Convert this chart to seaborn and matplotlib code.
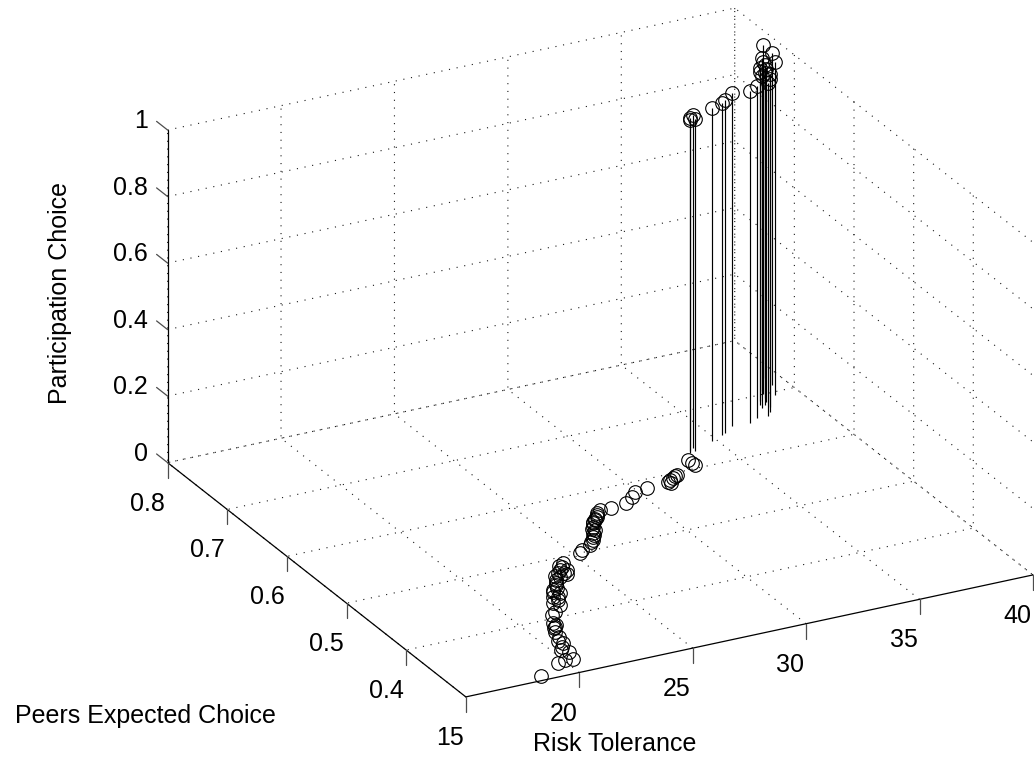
import numpy as np
import matplotlib
matplotlib.use("Agg")
import matplotlib.pyplot as plt
import seaborn as sns

# ---------------- data ----------------
# first 72 observations: participation 0 (on the floor), last 24: participation 1
risk_tolerance = [
    18.53, 19.70, 20.07, 20.36, 20.37, 20.54, 20.55, 20.75, 20.96, 21.05,
    21.28, 21.30, 21.60, 21.84, 22.17, 22.30, 22.47, 22.57, 22.74, 22.85,
    23.03, 23.28, 23.40, 23.55, 23.83, 23.86, 24.06, 24.10, 24.27, 25.30,
    25.50, 26.00, 26.29, 26.45, 26.63, 26.80, 26.90, 27.05, 27.27, 27.44,
    27.65, 27.89, 28.32, 29.06, 29.57, 29.89, 30.48, 31.44, 31.63, 31.82,
    32.09, 33.13, 33.14, 33.15,
    22.40, 22.95, 23.15, 23.65, 24.00, 22.65, 23.95, 26.15, 26.55, 26.75,
    27.10, 27.55, 27.30, 20.85, 21.15, 20.65, 31.55, 31.95,
    33.51, 33.77, 33.83, 34.80, 35.41, 35.60, 36.15, 36.90, 37.37, 37.84,
    37.98, 38.10, 38.22, 38.22, 38.40, 38.52, 38.60, 38.73, 39.00, 39.34,
    39.34, 38.30, 38.05, 33.60,
]
peers_expected = [
    0.308, 0.324, 0.326, 0.325, 0.344, 0.349, 0.338, 0.355, 0.377, 0.383,
    0.392, 0.388, 0.406, 0.410, 0.426, 0.420, 0.429, 0.434, 0.448, 0.440,
    0.455, 0.463, 0.470, 0.467, 0.472, 0.479, 0.483, 0.476, 0.489, 0.500,
    0.504, 0.510, 0.517, 0.522, 0.529, 0.533, 0.539, 0.545, 0.550, 0.554,
    0.561, 0.565, 0.564, 0.567, 0.575, 0.582, 0.585, 0.587, 0.590, 0.592,
    0.596, 0.617, 0.610, 0.606,
    0.436, 0.450, 0.458, 0.474, 0.486, 0.444, 0.470, 0.514, 0.525, 0.536,
    0.547, 0.557, 0.552, 0.366, 0.385, 0.360, 0.585, 0.594,
    0.628, 0.629, 0.635, 0.640, 0.646, 0.649, 0.658, 0.656, 0.662, 0.662,
    0.677, 0.668, 0.681, 0.690, 0.686, 0.693, 0.700, 0.706, 0.695, 0.712,
    0.727, 0.676, 0.684, 0.632,
]
participation = [0] * 72 + [1] * 24

x_ticks = [15, 20, 25, 30, 35, 40]
y_ticks = [0.4, 0.5, 0.6, 0.7, 0.8]
z_ticks = [0, 0.2, 0.4, 0.6, 0.8, 1]
x_tick_labels = ["15", "20", "25", "30", "35", "40"]
y_tick_labels = ["0.4", "0.5", "0.6", "0.7", "0.8"]
z_tick_labels = ["0", "0.2", "0.4", "0.6", "0.8", "1"]
x_lim = (15, 40)
y_lim = (0.3, 0.8)
z_lim = (0, 1)
x_label = "Risk Tolerance"
y_label = "Peers Expected Choice"
z_label = "Participation Choice"

# ---------------- style ----------------
sns.set_theme(style="white")
plt.rcParams["font.family"] = ["Liberation Sans", "DejaVu Sans"]
FS = 18

W, H = 1034, 761
fig = plt.figure(figsize=(W / 100, H / 100), dpi=100, facecolor="white")
ax = fig.add_axes([0.1, 0.1, 0.8, 0.8], projection="3d", proj_type="ortho")
ax.set_facecolor("white")
ax.view_init(elev=24.27, azim=-117.62)
ax.set_box_aspect((1, 1.005, 0.570))

# stems
markerline, stemlines, baseline = ax.stem(
    risk_tolerance, peers_expected, participation,
    linefmt="k-", markerfmt="ko", bottom=0)
markerline.set_markerfacecolor("none")
markerline.set_markeredgecolor("black")
markerline.set_markersize(9.8)
markerline.set_markeredgewidth(0.8)
stemlines.set_linewidth(0.85)
stemlines.set_color("black")
baseline.set_visible(False)

# axis lines and tick marks (MATLAB style)
axis_kw = dict(color="black", lw=0.9)
ax.plot([x_lim[0], x_lim[1]], [y_lim[0]] * 2, [z_lim[0]] * 2, **axis_kw)
ax.plot([x_lim[0]] * 2, [y_lim[0], y_lim[1]], [z_lim[0]] * 2, **axis_kw)
ax.plot([x_lim[0]] * 2, [y_lim[1]] * 2, [z_lim[0], z_lim[1]], **axis_kw)
tick_dz = 0.045 * (z_lim[1] - z_lim[0])
tick_dy = 0.037 * (y_lim[1] - y_lim[0])
tick_kw = dict(color="0.3", lw=0.9)
for t in x_ticks:
    ax.plot([t, t], [y_lim[0]] * 2, [z_lim[0], z_lim[0] - tick_dz], **tick_kw)
for t in y_ticks:
    ax.plot([x_lim[0]] * 2, [t, t], [z_lim[0], z_lim[0] - tick_dz], **tick_kw)
for t in z_ticks:
    ax.plot([x_lim[0]] * 2, [y_lim[1], y_lim[1] + tick_dy], [t, t], **tick_kw)

ax.set_xlim(*x_lim)
ax.set_ylim(*y_lim)
ax.set_zlim(*z_lim)
ax.set_xticks(x_ticks)
ax.set_yticks(y_ticks)
ax.set_zticks(z_ticks)
ax.set_xticklabels([""] * len(x_ticks))
ax.set_yticklabels([""] * len(y_ticks))
ax.set_zticklabels([""] * len(z_ticks))

for axis in (ax.xaxis, ax.yaxis, ax.zaxis):
    axis.set_pane_color((1, 1, 1, 1))
    axis.pane.set_edgecolor((1, 1, 1, 0))
    axis.line.set_color((1, 1, 1, 0))
    axis._axinfo["grid"].update(
        {"color": (0.1, 0.1, 0.1, 1), "linewidth": 0.8, "linestyle": (0, (1, 6))})
    axis._axinfo["tick"]["inward_factor"] = 0.0
    axis._axinfo["tick"]["outward_factor"] = 0.0
ax.grid(True)


def project(xs, ys, zs):
    xs = np.atleast_1d(np.asarray(xs, float))
    ys = np.atleast_1d(np.asarray(ys, float))
    zs = np.atleast_1d(np.asarray(zs, float))
    M = ax.get_proj()
    vec = np.vstack([xs, ys, zs, np.ones_like(xs)])
    v = M @ vec
    px, py = v[0] / v[3], v[1] / v[3]
    disp = ax.transData.transform(np.column_stack([px, py]))
    return np.column_stack([disp[:, 0], H - disp[:, 1]])


# ---------------- fit the box to the reference layout ----------------
ref_pts = [(x_lim[0], y_lim[0], z_lim[0]), (x_lim[1], y_lim[0], z_lim[0]),
           (x_lim[0], y_lim[1], z_lim[0]), (x_lim[0], y_lim[1], z_lim[1])]
targets = np.array([(465.5, 697.0), (1033.0, 575.0), (167.0, 462.5), (168.5, 130.0)])
for _ in range(2):
    fig.canvas.draw()
    bb = ax.get_position()
    cx = (bb.x0 + bb.x1) / 2 * W
    cy = H - (bb.y0 + bb.y1) / 2 * H
    L = bb.width * W
    P = project(*zip(*ref_pts))
    d = P - np.array([cx, cy])
    A = []
    b = []
    for i in range(len(ref_pts)):
        A.append([d[i, 0], 1, 0]); b.append(targets[i, 0])
        A.append([d[i, 1], 0, 1]); b.append(targets[i, 1])
    k, tx, ty = np.linalg.lstsq(np.array(A), np.array(b), rcond=None)[0]
    L2 = k * L
    ax.set_position([(tx - L2 / 2) / W, (H - ty - L2 / 2) / H, L2 / W, L2 / H])
fig.canvas.draw()

# ---------------- tick labels and axis titles ----------------
def put(xi, yi, s, **kw):
    fig.text(xi / W, 1 - yi / H, s, fontsize=FS, color="black", **kw)

for t, lab in zip(x_ticks, x_tick_labels):
    p = project(t, y_lim[0], z_lim[0])[0]
    put(p[0] - 16, p[1] + 48, lab, ha="center", va="baseline")
for t, lab in zip(y_ticks, y_tick_labels):
    p = project(x_lim[0], t, z_lim[0])[0]
    put(p[0] - 20, p[1] + 48, lab, ha="center", va="baseline")
for t, lab in zip(z_ticks, z_tick_labels):
    p = project(x_lim[0], y_lim[1], t)[0]
    put(p[0] - 19.5, p[1] - 2, lab, ha="right", va="baseline")

put(615, 751, x_label, ha="center", va="baseline")
put(145, 723, y_label, ha="center", va="baseline")
put(60, 293, z_label, ha="center", va="center", rotation=90)

fig.savefig("out.png", dpi=100, facecolor="white")
